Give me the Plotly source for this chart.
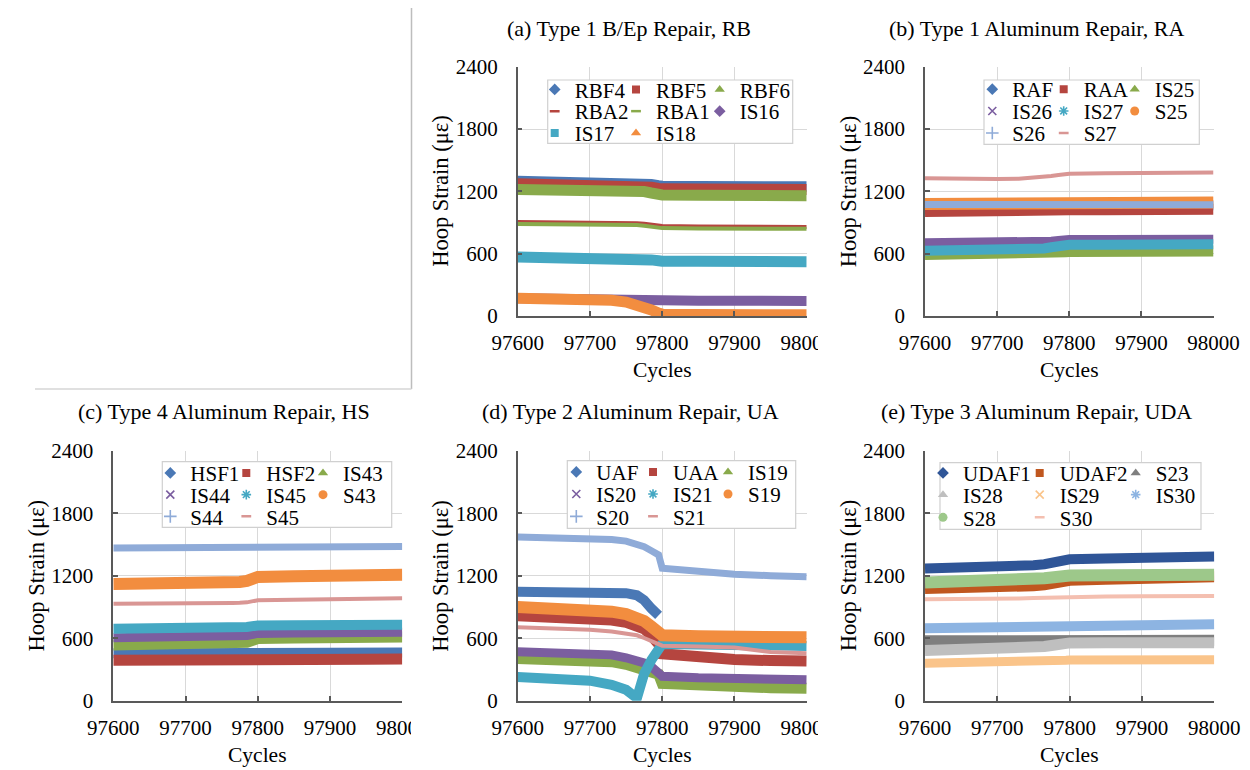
import plotly.graph_objects as go

W, H = 1250, 770

# ---------------- data ----------------
CYCLES = [97600, 97650, 97700, 97730, 97750, 97765, 97775, 97785, 97795,
          97800, 97850, 97900, 97950, 98000]

# (a) Type 1 B/Ep Repair, RB
RBF4 = [1302, 1300, 1298, 1296, 1294, 1290, 1284, 1272, 1260, 1255, 1252, 1250, 1248, 1248]
RBF5 = [1272, 1270, 1268, 1266, 1264, 1260, 1252, 1240, 1228, 1224, 1222, 1220, 1218, 1218]
RBF6 = [1218, 1218, 1216, 1214, 1212, 1208, 1198, 1184, 1172, 1166, 1163, 1160, 1158, 1158]
RBA2 = [906, 904, 902, 900, 898, 894, 888, 878, 870, 866, 862, 860, 858, 856]
RBA1 = [886, 885, 883, 881, 879, 875, 868, 858, 850, 846, 843, 841, 840, 839]
IS16 = [172, 172, 172, 171, 170, 168, 164, 158, 152, 150, 148, 147, 146, 145]
IS17 = [568, 566, 564, 562, 560, 556, 550, 540, 532, 528, 526, 524, 523, 522]
IS18 = [172, 170, 164, 152, 134, 112, 88, 58, 28, 18, 14, 12, 12, 12]

# (b) Type 1 Aluminum Repair, RA
RAF = [1055, 1055, 1055, 1056, 1057, 1058, 1060, 1062, 1064, 1065, 1065, 1065, 1066, 1066]
RAA = [1005, 1003, 1004, 1006, 1008, 1010, 1012, 1016, 1020, 1022, 1024, 1025, 1026, 1028]
IS25 = [592, 592, 592, 594, 596, 600, 606, 612, 618, 620, 621, 622, 623, 625]
IS26 = [705, 705, 706, 707, 710, 714, 720, 727, 733, 736, 737, 738, 738, 740]
IS27 = [628, 628, 630, 633, 640, 650, 662, 673, 681, 685, 687, 688, 689, 690]
S25 = [1078, 1078, 1078, 1079, 1080, 1082, 1084, 1086, 1088, 1090, 1090, 1091, 1092, 1093]
S26 = [1074, 1073, 1072, 1072, 1073, 1072, 1072, 1073, 1073, 1072, 1073, 1072, 1071, 1072]
S27 = [1325, 1320, 1318, 1322, 1330, 1338, 1348, 1358, 1366, 1370, 1374, 1376, 1378, 1382]

# (c) Type 4 Aluminum Repair, HS
HSF1 = [455, 455, 455, 455, 455, 456, 456, 458, 460, 461, 461, 461, 461, 462]
HSF2 = [388, 386, 386, 387, 388, 389, 390, 392, 396, 398, 398, 399, 399, 400]
IS43 = [535, 535, 537, 540, 543, 546, 550, 560, 585, 597, 603, 607, 610, 612]
IS44 = [605, 605, 607, 609, 611, 614, 618, 625, 640, 646, 650, 653, 656, 658]
IS45 = [690, 690, 691, 693, 695, 698, 702, 708, 718, 722, 724, 725, 727, 728]
S43 = [1120, 1120, 1122, 1125, 1130, 1134, 1140, 1150, 1175, 1188, 1195, 1200, 1205, 1210]
S44 = [1465, 1466, 1467, 1468, 1469, 1470, 1471, 1473, 1475, 1476, 1476, 1477, 1478, 1480]
S45 = [930, 930, 932, 934, 936, 938, 940, 944, 958, 964, 970, 975, 980, 983]

# (d) Type 2 Aluminum Repair, UA
UAF = [1045, 1045, 1042, 1040, 1032, 1012, 965, 885, 820, None, None, None, None, None]
UAA = [815, 805, 790, 775, 752, 725, 690, 625, 545, 450, 410, 395, 385, 380]
IS19 = [405, 400, 390, 375, 350, 325, 300, 282, 255, 165, 145, 135, 125, 120]
IS20 = [470, 465, 455, 440, 412, 388, 362, 325, 280, 235, 220, 210, 205, 200]
IS21 = [228, 208, 192, 152, 105, 25, 260, 390, 470, 545, 540, 535, 530, 525]
S19 = [900, 890, 872, 855, 832, 805, 765, 712, 655, 628, 618, 614, 610, 608]
S20 = [1572, 1566, 1558, 1548, 1532, 1508, 1478, 1440, 1400, 1272, 1238, 1215, 1200, 1190]
S21 = [705, 695, 682, 665, 648, 628, 602, 572, 548, 528, 520, 510, 468, 455]

# (e) Type 3 Aluminum Repair, UDA
UDAF1 = [1270, 1273, 1280, 1290, 1300, 1310, 1320, 1335, 1350, 1358, 1366, 1374, 1380, 1385]
UDAF2 = [1078, 1078, 1085, 1095, 1104, 1112, 1120, 1132, 1148, 1156, 1166, 1175, 1182, 1190]
S23 = [575, 576, 578, 580, 582, 585, 588, 592, 596, 596, 592, 588, 584, 580]
IS28 = [482, 486, 492, 500, 510, 520, 530, 542, 552, 555, 556, 556, 556, 556]
IS29 = [360, 362, 366, 370, 375, 378, 382, 385, 388, 390, 391, 392, 392, 393]
IS30 = [695, 698, 702, 706, 710, 713, 716, 720, 724, 726, 729, 731, 733, 735]
S28 = [1135, 1140, 1150, 1160, 1168, 1175, 1182, 1190, 1198, 1202, 1205, 1207, 1208, 1210]
S30 = [975, 975, 978, 982, 985, 988, 991, 994, 997, 999, 1001, 1003, 1004, 1005]

X_TICKS = [97600, 97700, 97800, 97900, 98000]
Y_TICKS = [0, 600, 1200, 1800, 2400]

TITLES = ["(a) Type 1 B/Ep Repair, RB", "(b) Type 1 Aluminum Repair, RA",
          "(c) Type 4 Aluminum Repair, HS", "(d) Type 2 Aluminum Repair, UA",
          "(e) Type 3 Aluminum Repair, UDA"]

# ---------------- styles ----------------
BLUE, RED, GREEN, PURPLE = "#4A78B5", "#B5453F", "#89AA4B", "#7B5EA0"
CYAN, ORANGE, LBLUE, PINK = "#45A8C3", "#F28D3F", "#8FABD8", "#D99694"

# symbol key -> (plotly symbol, legend marker size, band width in px, open?)
SYM = {
    "diamond": ("diamond", 9, 10, False),
    "square": ("square", 8, 11, False),
    "triangle": ("triangle-up", 9, 11, False),
    "x": ("x-thin-open", 8, 9, True),
    "star": ("asterisk-open", 8, 10, True),
    "circle": ("circle", 9, 12, False),
    "plus": ("cross-thin-open", 9, 7, True),
    "dash": ("line-ew-open", 7, 4, True),
}

PANELS = [
    dict(series=[("RBF4", RBF4, "diamond", BLUE), ("RBF5", RBF5, "square", RED),
                 ("RBF6", RBF6, "triangle", GREEN), ("RBA2", RBA2, "dash", RED),
                 ("RBA1", RBA1, "dash", GREEN), ("IS16", IS16, "diamond", PURPLE),
                 ("IS17", IS17, "square", CYAN), ("IS18", IS18, "triangle", ORANGE)],
         px=(517.7, 806.7), py=(66.7, 316.0),
         title=(629, 28.3), ytitle_x=440.5,
         box=(547.7, 80, 792.7, 143.3), tx=(571.7, 653, 736.7), ty=(89.8, 111.5, 133.3)),
    dict(series=[("RAF", RAF, "diamond", BLUE), ("RAA", RAA, "square", RED),
                 ("IS25", IS25, "triangle", GREEN), ("IS26", IS26, "x", PURPLE),
                 ("IS27", IS27, "star", CYAN), ("S25", S25, "circle", ORANGE),
                 ("S26", S26, "plus", LBLUE), ("S27", S27, "dash", PINK)],
         px=(925.0, 1213.5), py=(66.7, 316.0),
         title=(1036, 28.3), ytitle_x=848,
         box=(984, 80, 1199.3, 144.3), tx=(1009.3, 1080.7, 1151.7), ty=(89.5, 111.3, 133.3)),
    dict(series=[("HSF1", HSF1, "diamond", BLUE), ("HSF2", HSF2, "square", RED),
                 ("IS43", IS43, "triangle", GREEN), ("IS44", IS44, "x", PURPLE),
                 ("IS45", IS45, "star", CYAN), ("S43", S43, "circle", ORANGE),
                 ("S44", S44, "plus", LBLUE), ("S45", S45, "dash", PINK)],
         px=(113.3, 402.3), py=(450.7, 700.7),
         title=(224, 411.7), ytitle_x=36.7,
         box=(162.3, 461.7, 391.7, 527.3), tx=(187.3, 263.3, 340), ty=(473.3, 495, 516.7)),
    dict(series=[("UAF", UAF, "diamond", BLUE), ("UAA", UAA, "square", RED),
                 ("IS19", IS19, "triangle", GREEN), ("IS20", IS20, "x", PURPLE),
                 ("IS21", IS21, "star", CYAN), ("S19", S19, "circle", ORANGE),
                 ("S20", S20, "plus", LBLUE), ("S21", S21, "dash", PINK)],
         px=(517.7, 806.7), py=(450.7, 700.7),
         title=(630, 411.7), ytitle_x=441,
         box=(567.3, 460.7, 795.7, 528.3), tx=(593.3, 670, 745), ty=(472.3, 494.3, 516.7)),
    dict(series=[("UDAF1", UDAF1, "diamond", "#2F5597"), ("UDAF2", UDAF2, "square", "#C0571F"),
                 ("S23", S23, "triangle", "#7F7F7F"), ("IS28", IS28, "triangle", "#BFBFBF"),
                 ("IS29", IS29, "x", "#FAC48A"), ("IS30", IS30, "star", "#8DB4E2"),
                 ("S28", S28, "circle", "#9DC88A"), ("S30", S30, "dash", "#F4BFB0")],
         px=(925.0, 1214.3), py=(450.7, 700.7),
         title=(1036, 411.7), ytitle_x=848.5,
         box=(940, 462.7, 1201, 529.3), tx=(960, 1056.7, 1152.7), ty=(473.3, 495, 517.7)),
]

FONT = "Liberation Serif, Times New Roman, serif"
FS = 21


def pxx(x):
    return x / W


def pxy(y):
    return 1 - y / H


fig = go.Figure()
layout = dict(width=W, height=H, margin=dict(l=0, r=0, t=0, b=0, autoexpand=False),
              paper_bgcolor="white", plot_bgcolor="white",
              font=dict(family=FONT, size=FS, color="black"),
              showlegend=True)
shapes, annotations = [], []
leg_count = 0

for p, panel in enumerate(PANELS):
    k = p + 1
    xa = "x" if k == 1 else f"x{k}"
    ya = "y" if k == 1 else f"y{k}"
    xkey = "xaxis" if k == 1 else f"xaxis{k}"
    ykey = "yaxis" if k == 1 else f"yaxis{k}"
    x0, x1 = panel["px"]
    yt, yb = panel["py"]
    layout[xkey] = dict(domain=[pxx(x0), pxx(x1)], anchor=ya, range=[97600, 98000],
                        tickvals=X_TICKS, ticktext=[str(v) for v in X_TICKS],
                        showgrid=True, gridcolor="#D9D9D9", gridwidth=1,
                        showline=True, linecolor="#595959", linewidth=1.5,
                        ticks="inside", ticklen=5, tickcolor="#595959", tickwidth=1.5,
                        zeroline=False, ticklabelstandoff=7, automargin=False,
                        tickfont=dict(family=FONT, size=FS, color="black"))
    layout[ykey] = dict(domain=[pxy(yb), pxy(yt)], anchor=xa, range=[0, 2400],
                        tickvals=Y_TICKS, ticktext=[str(v) for v in Y_TICKS],
                        showgrid=True, gridcolor="#D9D9D9", gridwidth=1,
                        showline=True, linecolor="#595959", linewidth=1.5,
                        ticks="inside", ticklen=5, tickcolor="#595959", tickwidth=1.5,
                        zeroline=False, ticklabelstandoff=14, automargin=False,
                        tickfont=dict(family=FONT, size=FS, color="black"))

    # data bands
    for name, vals, sym, color in panel["series"]:
        _, _, bw, _ = SYM[sym]
        fig.add_trace(go.Scatter(x=CYCLES, y=vals, mode="lines", name=name,
                                 legendgroup=f"{k}-{name}", showlegend=False,
                                 line=dict(color=color, width=bw),
                                 connectgaps=False, xaxis=xa, yaxis=ya))

    # legend entries, one legend per entry so that the grid matches
    for i, (name, vals, sym, color) in enumerate(panel["series"]):
        leg_count += 1
        lid = "legend" if leg_count == 1 else f"legend{leg_count}"
        row, col = divmod(i, 3)
        symbol, msize, _, is_open = SYM[sym]
        if is_open:
            marker = dict(symbol=symbol, size=msize, color=color,
                          line=dict(color=color, width=2.5 if sym == "dash" else 1.6))
        else:
            marker = dict(symbol=symbol, size=msize, color=color, line=dict(width=0))
        fig.add_trace(go.Scatter(x=[None], y=[None], mode="markers", name=name,
                                 legendgroup=f"{k}-{name}", legend=lid,
                                 marker=marker, xaxis=xa, yaxis=ya))
        layout[lid] = dict(x=pxx(panel["tx"][col] - 37), y=pxy(panel["ty"][row]),
                           xanchor="left", yanchor="middle",
                           bgcolor="rgba(0,0,0,0)", borderwidth=0,
                           font=dict(family=FONT, size=FS, color="black"))

    # legend frame
    bx0, by0, bx1, by1 = panel["box"]
    shapes.append(dict(type="rect", xref="paper", yref="paper", layer="above",
                       x0=pxx(bx0), x1=pxx(bx1), y0=pxy(by1), y1=pxy(by0),
                       line=dict(color="#D0D0D0", width=1.2), fillcolor="white"))

    # titles
    annotations.append(dict(text=TITLES[p], xref="paper", yref="paper",
                            x=pxx(panel["title"][0]), y=pxy(panel["title"][1]),
                            xanchor="center", yanchor="middle", showarrow=False,
                            font=dict(family=FONT, size=22, color="black")))
    annotations.append(dict(text="Cycles", xref="paper", yref="paper",
                            x=pxx((x0 + x1) / 2), y=pxy(yb + 54),
                            xanchor="center", yanchor="middle", showarrow=False,
                            font=dict(family=FONT, size=21.5, color="black")))
    annotations.append(dict(text="Hoop Strain (με)", xref="paper", yref="paper",
                            x=pxx(panel["ytitle_x"]), y=pxy((yt + yb) / 2),
                            xanchor="center", yanchor="middle", showarrow=False,
                            textangle=-90,
                            font=dict(family=FONT, size=22.5, color="black")))

# cropped edges of the original panels (a), (c), (d)
for cx0, cx1, cy0, cy1 in [(818, 836, 326, 360), (818, 836, 710, 745), (411, 431, 710, 745)]:
    shapes.append(dict(type="rect", xref="paper", yref="paper", layer="above",
                       x0=pxx(cx0), x1=pxx(cx1), y0=pxy(cy1), y1=pxy(cy0),
                       line=dict(width=0), fillcolor="white"))

# empty frame at the top left
shapes.append(dict(type="line", xref="paper", yref="paper", x0=pxx(411.5), x1=pxx(411.5),
                   y0=pxy(8), y1=pxy(389), line=dict(color="#BDBDBD", width=1.5)))
shapes.append(dict(type="line", xref="paper", yref="paper", x0=pxx(35), x1=pxx(411.5),
                   y0=pxy(389), y1=pxy(389), line=dict(color="#D6D6D6", width=1.5)))

layout["shapes"] = shapes
layout["annotations"] = annotations
fig.update_layout(**layout)
fig.write_html("out.html")
